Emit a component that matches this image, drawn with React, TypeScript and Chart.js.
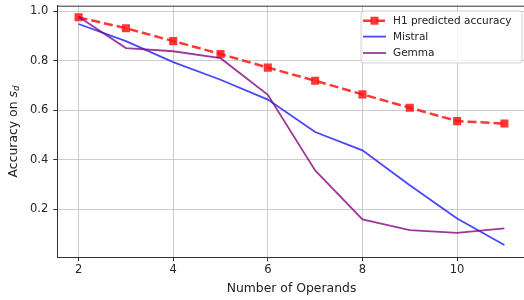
import React, { useEffect, useRef } from 'react';
import { Chart, registerables } from 'chart.js';
Chart.register(...registerables);

const operands = [2, 3, 4, 5, 6, 7, 8, 9, 10, 11];
const h1Predicted = [0.976, 0.932, 0.88, 0.828, 0.773, 0.72, 0.665, 0.611, 0.557, 0.547];
const mistral = [0.949, 0.88, 0.795, 0.724, 0.644, 0.513, 0.439, 0.298, 0.164, 0.057];
const gemma = [0.978, 0.852, 0.839, 0.811, 0.663, 0.358, 0.16, 0.117, 0.106, 0.124];
const xTicks = [2, 4, 6, 8, 10];
const yTicks = [0.2, 0.4, 0.6, 0.8, 1.0];
const seriesNames = ['H1 predicted accuracy', 'Mistral', 'Gemma'];
const xTitle = 'Number of Operands';

const FONT = "'DejaVu Sans', sans-serif";
const RED = 'rgba(255,20,20,0.85)';
const BLUE = 'rgba(20,20,255,0.78)';
const PURPLE = 'rgba(128,0,128,0.78)';
const TITLE_SIZE = 12.4;

const overlay = {
  id: 'overlay',
  afterDraw(chart: any) {
    const ctx = chart.ctx as CanvasRenderingContext2D;
    const a = chart.chartArea;
    ctx.save();
    // top & right spines
    ctx.strokeStyle = '#333';
    ctx.lineWidth = 1;
    ctx.beginPath();
    ctx.moveTo(a.left, a.top + 0.5);
    ctx.lineTo(a.right, a.top + 0.5);
    ctx.moveTo(a.right - 0.5, a.top);
    ctx.lineTo(a.right - 0.5, a.bottom);
    ctx.stroke();

    // x title
    ctx.fillStyle = '#222';
    ctx.font = `${TITLE_SIZE}px ${FONT}`;
    ctx.textAlign = 'center';
    ctx.textBaseline = 'middle';
    ctx.fillText(xTitle, (a.left + a.right) / 2, 289);

    // y title with italic subscript
    ctx.save();
    ctx.translate(14, (a.top + a.bottom) / 2);
    ctx.rotate(-Math.PI / 2);
    const p1 = 'Accuracy on ';
    ctx.font = `${TITLE_SIZE}px ${FONT}`;
    const w1 = ctx.measureText(p1).width;
    ctx.font = `italic ${TITLE_SIZE}px ${FONT}`;
    const w2 = ctx.measureText('s').width;
    ctx.font = `italic 8.6px ${FONT}`;
    const w3 = ctx.measureText('d').width;
    const total = w1 + w2 + w3;
    let x = -total / 2;
    ctx.textAlign = 'left';
    ctx.textBaseline = 'middle';
    ctx.font = `${TITLE_SIZE}px ${FONT}`;
    ctx.fillText(p1, x, 0);
    x += w1;
    ctx.font = `italic ${TITLE_SIZE}px ${FONT}`;
    ctx.fillText('s', x, 0);
    x += w2;
    ctx.font = `italic 8.6px ${FONT}`;
    ctx.fillText('d', x, 3);
    ctx.restore();

    // legend
    const bx = 361, by = 11, bw = 161, bh = 52, r = 3;
    ctx.beginPath();
    ctx.moveTo(bx + r, by);
    ctx.lineTo(bx + bw - r, by);
    ctx.quadraticCurveTo(bx + bw, by, bx + bw, by + r);
    ctx.lineTo(bx + bw, by + bh - r);
    ctx.quadraticCurveTo(bx + bw, by + bh, bx + bw - r, by + bh);
    ctx.lineTo(bx + r, by + bh);
    ctx.quadraticCurveTo(bx, by + bh, bx, by + bh - r);
    ctx.lineTo(bx, by + r);
    ctx.quadraticCurveTo(bx, by, bx + r, by);
    ctx.closePath();
    ctx.fillStyle = 'rgba(255,255,255,0.8)';
    ctx.fill();
    ctx.strokeStyle = 'rgba(204,204,204,0.9)';
    ctx.lineWidth = 1;
    ctx.stroke();

    const rows = [20.7, 36.6, 53.0];
    const colors = [RED, BLUE, PURPLE];
    rows.forEach((ry, i) => {
      ctx.strokeStyle = colors[i];
      ctx.lineWidth = i === 0 ? 2.5 : 1.8;
      ctx.setLineDash(i === 0 ? [9, 4] : []);
      ctx.beginPath();
      ctx.moveTo(363, ry);
      ctx.lineTo(386, ry);
      ctx.stroke();
      ctx.setLineDash([]);
      if (i === 0) {
        ctx.fillStyle = RED;
        ctx.fillRect(374.5 - 4, ry - 4, 8, 8);
      }
      ctx.fillStyle = '#222';
      ctx.font = `10.5px ${FONT}`;
      ctx.textAlign = 'left';
      ctx.textBaseline = 'middle';
      ctx.fillText(seriesNames[i], 393, ry + 0.5);
    });
    ctx.restore();
  },
};

export default function App() {
  const ref = useRef<HTMLCanvasElement>(null);
  useEffect(() => {
    document.body.style.margin = '0';
    const chart = new Chart(ref.current as HTMLCanvasElement, {
      type: 'line',
      data: {
        datasets: [
          {
            label: seriesNames[0],
            data: operands.map((x, i) => ({ x, y: h1Predicted[i] })),
            borderColor: RED,
            backgroundColor: RED,
            borderWidth: 2.5,
            borderDash: [9, 4],
            pointStyle: 'rect',
            pointRadius: 5.7,
            pointBorderWidth: 0,
            pointBackgroundColor: RED,
            order: 2,
          },
          {
            label: seriesNames[1],
            data: operands.map((x, i) => ({ x, y: mistral[i] })),
            borderColor: BLUE,
            borderWidth: 1.8,
            pointRadius: 0,
            order: 1,
          },
          {
            label: seriesNames[2],
            data: operands.map((x, i) => ({ x, y: gemma[i] })),
            borderColor: PURPLE,
            borderWidth: 1.8,
            pointRadius: 0,
            order: 0,
          },
        ],
      },
      options: {
        animation: false,
        responsive: false,
        events: [],
        layout: { padding: { left: 0, top: 5, right: 14.3, bottom: 0 } },
        plugins: { legend: { display: false }, tooltip: { enabled: false } },
        scales: {
          x: {
            type: 'linear',
            min: 1.55,
            max: 11.45,
            afterBuildTicks: (s: any) => {
              s.ticks = xTicks.map((v) => ({ value: v }));
            },
            afterFit: (s: any) => {
              s.height = 42.7;
              s.paddingLeft = 0;
              s.paddingRight = 0;
            },
            grid: { color: '#cccccc', lineWidth: 1, tickColor: '#333', tickLength: 4 },
            border: { color: '#333', width: 1 },
            ticks: {
              color: '#262626',
              font: { family: FONT, size: 11.5 },
              padding: 2,
              maxRotation: 0,
              callback: (v: any) => String(v),
            },
          },
          y: {
            type: 'linear',
            min: 0.007,
            max: 1.023,
            afterBuildTicks: (s: any) => {
              s.ticks = yTicks.map((v) => ({ value: v }));
            },
            afterFit: (s: any) => {
              s.width = 57.3;
              s.paddingTop = 0;
              s.paddingBottom = 0;
            },
            grid: { color: '#cccccc', lineWidth: 1, tickColor: '#333', tickLength: 4 },
            border: { color: '#333', width: 1 },
            ticks: {
              color: '#262626',
              font: { family: FONT, size: 11.5 },
              padding: 5,
              callback: (v: any) => Number(v).toFixed(1),
            },
          },
        },
      },
      plugins: [overlay],
    });
    return () => chart.destroy();
  }, []);
  return (
    <div style={{ position: 'absolute', left: 0, top: 0, width: 524, height: 300, overflow: 'hidden', background: '#fff' }}>
      <canvas ref={ref} width={540} height={300} style={{ width: 540, height: 300, display: 'block' }} />
    </div>
  );
}
